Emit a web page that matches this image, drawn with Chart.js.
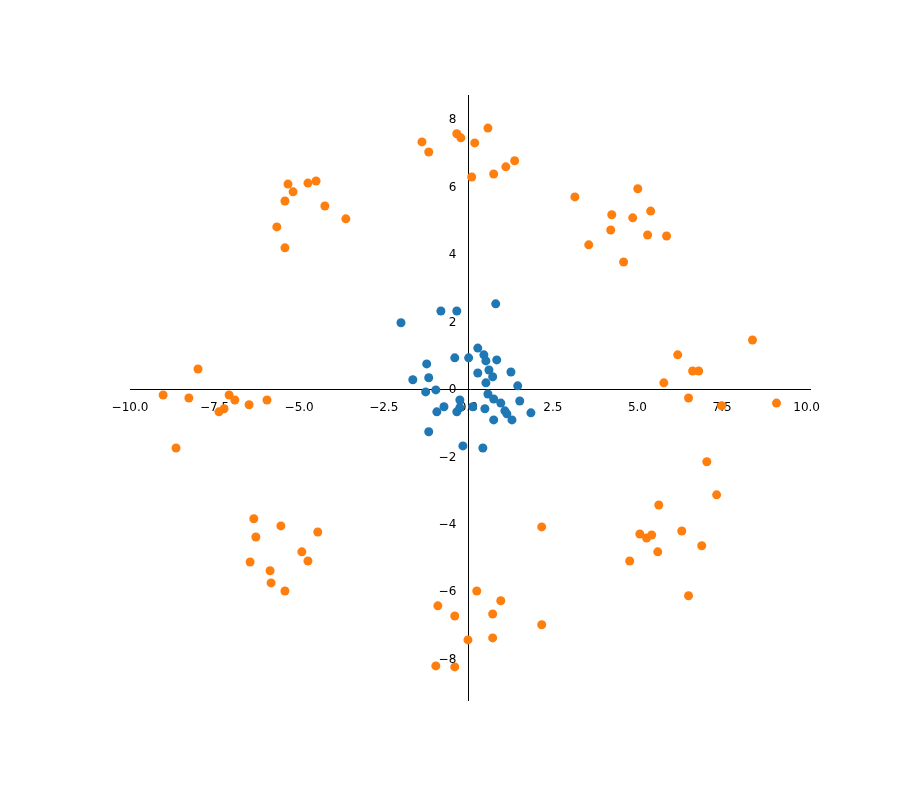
<!DOCTYPE html>
<html><head><meta charset="utf-8">
<script src="https://cdn.jsdelivr.net/npm/chart.js@4"></script>
<style>html,body{margin:0;padding:0;background:#fff}#w{width:917px;height:788px}</style>
</head><body><div id="w"><canvas id="c"></canvas></div>
<script>
const blueX=[-1.99,-0.81,-0.34,0.81,0.28,-0.40,0.01,0.46,0.52,0.84,-1.23,-1.64,-1.17,0.28,0.61,0.72,1.26,0.52,-1.26,-0.96,0.58,1.46,-0.25,0.13,-0.72,-0.93,-0.34,-0.25,0.49,0.75,0.96,1.52,1.08,1.14,0.75,1.29,1.85,-1.17,-0.16,0.43];
const blueY=[1.99,2.34,2.34,2.55,1.24,0.95,0.95,1.04,0.86,0.89,0.77,0.30,0.36,0.50,0.59,0.39,0.53,0.21,-0.06,0.0,-0.12,0.12,-0.30,-0.50,-0.50,-0.65,-0.65,-0.53,-0.56,-0.27,-0.39,-0.33,-0.62,-0.71,-0.89,-0.89,-0.68,-1.24,-1.66,-1.72];
const orangeX=[-1.37,-0.34,-0.22,0.58,-1.17,0.19,1.37,1.11,0.75,0.10,
-5.33,-4.74,-4.5,-5.18,-5.42,-4.24,-3.62,-5.66,-5.42,
3.15,5.01,4.24,4.86,5.39,4.21,5.30,5.86,3.56,4.59,
8.40,6.19,5.78,6.63,6.81,6.51,7.49,9.11,
-7.99,-9.02,-8.26,-7.07,-6.90,-7.22,-7.37,-6.48,-5.95,-8.64,
-6.34,-6.28,-5.54,-4.45,-6.45,-4.92,-4.74,-5.86,-5.83,-5.42,
2.17,0.25,0.96,-0.90,0.72,-0.40,2.17,0.72,-0.01,-0.96,-0.40,
7.05,7.34,5.63,6.31,5.07,5.42,5.27,6.90,5.60,4.77,6.51];
const orangeY=[7.35,7.59,7.47,7.76,7.05,7.32,6.79,6.61,6.40,6.31,
6.10,6.13,6.19,5.87,5.60,5.45,5.07,4.83,4.21,
5.72,5.96,5.19,5.10,5.30,4.74,4.59,4.56,4.30,3.79,
1.48,1.04,0.21,0.56,0.56,-0.24,-0.47,-0.39,
0.62,-0.15,-0.24,-0.15,-0.30,-0.56,-0.65,-0.44,-0.30,-1.72,
-3.82,-4.36,-4.03,-4.21,-5.10,-4.80,-5.07,-5.36,-5.72,-5.96,
-4.06,-5.96,-6.25,-6.40,-6.64,-6.70,-6.96,-7.35,-7.41,-8.18,-8.21,
-2.13,-3.11,-3.41,-4.18,-4.27,-4.30,-4.39,-4.62,-4.80,-5.07,-6.10];
const xTicks=[-10,-7.5,-5,-2.5,0,2.5,5,7.5,10];
const yTicks=[-8,-6,-4,-2,0,2,4,6,8];
const pts=(xs,ys)=>xs.map((x,i)=>({x,y:ys[i]}));
const tickFont={family:'DejaVu Sans',size:12};
new Chart(document.getElementById('c'),{
type:'scatter',
data:{datasets:[
{data:pts(blueX,blueY),backgroundColor:'#1f77b4',borderWidth:0,pointRadius:4.5},
{data:pts(orangeX,orangeY),backgroundColor:'#ff7f0e',borderWidth:0,pointRadius:4.5}]},
options:{responsive:true,maintainAspectRatio:false,animation:false,
layout:{padding:{left:130,right:107,top:95,bottom:88}},
plugins:{legend:{display:false},tooltip:{enabled:false}},
scales:{
x:{type:'linear',position:{y:0},min:-10,max:10.1,grid:{display:false},
border:{color:'#000',width:1},
afterBuildTicks:s=>{s.ticks=xTicks.map(v=>({value:v}));},
ticks:{color:'#000',font:tickFont,maxRotation:0,padding:3,callback:v=>(v<0?'\u2212':'')+Math.abs(v).toFixed(1)}},
y:{type:'linear',position:{x:0},min:-9.19,max:8.74,grid:{display:false},
border:{color:'#000',width:1},
afterBuildTicks:s=>{s.ticks=yTicks.map(v=>({value:v}));},
ticks:{color:'#000',font:tickFont,padding:9,callback:v=>(v<0?'\u2212':'')+Math.abs(v)+'\u2003'}}
}}});
</script></body></html>
